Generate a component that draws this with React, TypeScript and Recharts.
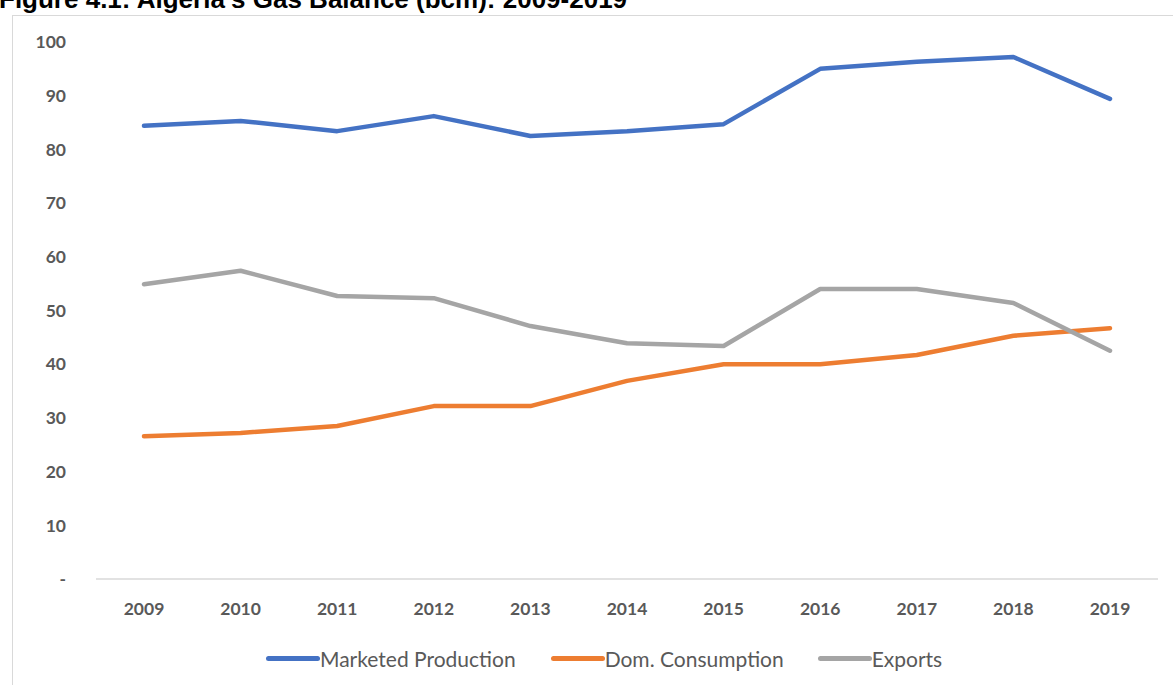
import React from 'react';
import { LineChart, Line, XAxis, YAxis } from 'recharts';

const years = ['2009', '2010', '2011', '2012', '2013', '2014', '2015', '2016', '2017', '2018', '2019'];
const marketedProduction = [84.4, 85.3, 83.4, 86.2, 82.5, 83.4, 84.7, 95.0, 96.3, 97.2, 89.4];
const domConsumption = [26.6, 27.2, 28.5, 32.2, 32.2, 36.9, 40.0, 40.0, 41.7, 45.3, 46.7];
const exportsSeries = [54.9, 57.4, 52.7, 52.3, 47.1, 43.9, 43.4, 54.0, 54.0, 51.4, 42.5];
const yTicks = [0, 10, 20, 30, 40, 50, 60, 70, 80, 90, 100];

const seriesInfo = [
  { key: 'prod', name: 'Marketed Production', color: '#4472C4' },
  { key: 'cons', name: 'Dom. Consumption', color: '#ED7D31' },
  { key: 'exp', name: 'Exports', color: '#A5A5A5' },
];

const data = years.map((y, i) => ({
  year: y,
  prod: marketedProduction[i],
  cons: domConsumption[i],
  exp: exportsSeries[i],
}));

const tickFont = { fontFamily: 'Lato, "DejaVu Sans", sans-serif', fontSize: 17.5, fontWeight: 700, fill: '#595959' };

const LegendBlock = () => (
  <div style={{ position: 'absolute', top: 646, left: 0, width: 1173, display: 'flex', alignItems: 'center', paddingLeft: 266, boxSizing: 'border-box', fontFamily: 'Lato, "DejaVu Sans", sans-serif', fontSize: 21, color: '#595959' }}>
    {seriesInfo.map((s, i) => (
      <div key={s.key} style={{ display: 'flex', alignItems: 'center', marginRight: i === 0 ? 35 : 34 }}>
        <div style={{ width: 54, height: 5, borderRadius: 3, background: s.color }} />
        <span>{s.name}</span>
      </div>
    ))}
  </div>
);

export default function App() {
  return (
    <div style={{ position: 'absolute', left: 0, top: 0, width: 1173, height: 685, overflow: 'hidden', background: '#fff' }}>
      <div style={{ position: 'absolute', left: -1, top: -16, lineHeight: 'normal', fontFamily: '"Liberation Sans", Arial, sans-serif', fontWeight: 700, fontSize: 26, color: '#000', whiteSpace: 'nowrap' }}>
        Figure 4.1: Algeria's Gas Balance (bcm): 2009-2019
      </div>
      <div style={{ position: 'absolute', left: 12, top: 15, width: 1200, height: 700, border: '1.5px solid #d9d9d9', boxSizing: 'border-box' }} />
      <div style={{ position: 'absolute', left: 0, top: 0 }}>
        <LineChart width={1173} height={685} data={data} margin={{ top: 42, right: 15, left: 0, bottom: 76 }}>
          <XAxis
            dataKey="year"
            height={30}
            padding={{ left: 48, right: 48 }}
            tickLine={false}
            tickSize={0}
            tickMargin={24}
            axisLine={{ stroke: '#d9d9d9', strokeWidth: 1.5 }}
            tick={tickFont}
          />
          <YAxis
            width={96}
            domain={[0, 100]}
            ticks={yTicks}
            interval={0}
            axisLine={false}
            tickLine={false}
            tickSize={0}
            tickMargin={30}
            tick={tickFont}
            tickFormatter={(v: number) => (v === 0 ? '-' : String(v))}
          />
          {seriesInfo.map((s) => (
            <Line
              key={s.key}
              dataKey={s.key}
              name={s.name}
              stroke={s.color}
              strokeWidth={4.5}
              strokeLinecap="round"
              strokeLinejoin="round"
              dot={false}
              activeDot={false}
              isAnimationActive={false}
            />
          ))}
        </LineChart>
      </div>
      <LegendBlock />
    </div>
  );
}
